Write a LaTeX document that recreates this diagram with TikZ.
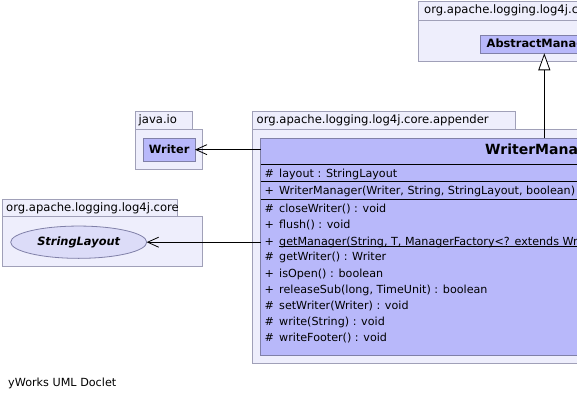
\documentclass[tikz,border=0pt]{standalone}
\usepackage{fontspec}
\setmainfont{DejaVu Sans}
\usetikzlibrary{arrows.meta,shapes.geometric}
\definecolor{pkgfill}{HTML}{EEEEFC}
\definecolor{pkgdraw}{HTML}{A0A0B8}
\definecolor{clsfill}{HTML}{B8B8FA}
\definecolor{clsdraw}{HTML}{8080A8}
\definecolor{ellfill}{HTML}{DCDCF8}
\tikzset{
  pkgbox/.style={draw=pkgdraw,fill=pkgfill,line width=0.8pt,inner sep=0pt,outer sep=0pt,anchor=north west},
  clsbox/.style={draw=clsdraw,fill=clsfill,line width=0.8pt,inner sep=0pt,outer sep=0pt,anchor=north west},
  pkglabel/.style={anchor=west,inner sep=0pt,font=\fontsize{11.6}{13}\selectfont},
  member/.style={anchor=base west,inner sep=0pt,font=\fontsize{11.15}{13}\selectfont},
  sep/.style={draw=black,line width=0.8pt},
  depend/.style={draw=black,line width=0.8pt,-{Straight Barb[length=11pt,width=10pt,line width=0.8pt]}},
  general/.style={draw=black,line width=0.8pt,-{Triangle[open,length=17pt,width=12pt,fill=white,line width=0.8pt]}},
}
\begin{document}
\begin{tikzpicture}[x=1pt,y=-1pt]
\useasboundingbox (0,0) rectangle (577,401);
\fill[white] (0,0) rectangle (577,401);
\clip (0,0) rectangle (577,401);

% package org.apache.logging.log4j.core (top right)
\node[pkgbox,minimum width=200pt,minimum height=19pt] (ptabA) at (418.3,1) {};
\node[pkgbox,minimum width=200pt,minimum height=41pt] (pbodyA) at (418.3,20) {};
\node[pkglabel] (plabA) at (424,10.5) {org.apache.logging.log4j.core};
\node[clsbox,minimum width=160pt,minimum height=17.6pt] (am) at (480.7,35.7) {};
\node[anchor=west,inner sep=0pt,font=\fontsize{11.4}{13}\selectfont\bfseries] (amt) at (486.5,44.5) {AbstractManager};

% package java.io
\node[pkgbox,minimum width=57.7pt,minimum height=17.6pt] (ptabB) at (135,111.7) {};
\node[pkgbox,minimum width=67.3pt,minimum height=40pt] (pbodyB) at (135,129.3) {};
\node[pkglabel] (plabB) at (138.5,120.5) {java.io};
\node[clsbox,minimum width=51.7pt,minimum height=22.7pt] (writer) at (143.3,138.3) {};
\node[inner sep=0pt,font=\fontsize{11.4}{13}\selectfont\bfseries] at (writer.center) {Writer};

% package org.apache.logging.log4j.core (left)
\node[pkgbox,minimum width=174.6pt,minimum height=17.7pt] (ptabC) at (2.7,199) {};
\node[pkgbox,minimum width=199.6pt,minimum height=50pt] (pbodyC) at (2.7,216.7) {};
\node[pkglabel] (plabC) at (6,208) {org.apache.logging.log4j.core};
\node[ellipse,draw=clsdraw,fill=ellfill,line width=0.8pt,inner sep=0pt,outer sep=0pt,
      minimum width=136pt,minimum height=32.3pt,font=\fontsize{11.4}{13}\selectfont\bfseries\itshape] (sl) at (78.7,242.2) {StringLayout};

% package org.apache.logging.log4j.core.appender
\node[pkgbox,minimum width=263pt,minimum height=17.6pt] (ptabD) at (252.7,111.7) {};
\node[pkgbox,minimum width=400pt,minimum height=234pt] (pbodyD) at (252.7,129.3) {};
\node[pkglabel] (plabD) at (256.5,120.5) {org.apache.logging.log4j.core.appender};

% class WriterManager
\node[clsbox,minimum width=400pt,minimum height=216.7pt] (wm) at (260.7,138.3) {};
\node[anchor=west,inner sep=0pt,font=\fontsize{14}{16}\selectfont\bfseries] (wmt) at (485,151) {WriterManager};
\draw[sep] (260.7,164) -- (700,164);
\draw[sep] (260.7,181) -- (700,181);
\draw[sep] (260.7,199) -- (700,199);

\foreach \y/\m/\t in {
  173/\#/{layout : StringLayout},
  190/+/{WriterManager(Writer, String, StringLayout, boolean)},
  208.3/\#/{closeWriter() : void},
  224.5/+/{flush() : void},
  256.7/\#/{getWriter() : Writer},
  272.8/+/{isOpen() : boolean},
  288.9/+/{releaseSub(long, TimeUnit) : boolean},
  305/\#/{setWriter(Writer) : void},
  321.1/\#/{write(String) : void},
  337.2/\#/{writeFooter() : void}}{
  \node[member] at (264.5,\y+4.2) {\m};
  \node[member] at (279,\y+4.2) {\t};
}
\node[member] (gm1) at (264.5,245) {+};
\node[member] (gm) at (279,245) {getManager(String, T, ManagerFactory<? extends WriterManager, T>) : WriterManager};
\draw[line width=0.7pt] (279,246.5) -- (900,246.5);

% connectors
\draw[depend] (wm.west |- writer.east) -- (writer.east);
\draw[depend] (wm.west |- sl.east) -- (sl.east);
\coordinate (gen) at (544.3,138.3);
\draw[general] (gen) -- (gen |- am.south);

% footer
\node[anchor=west,inner sep=0pt,font=\fontsize{11.2}{13}\selectfont] (foot) at (8,383.5) {yWorks UML Doclet};
\end{tikzpicture}
\end{document}
